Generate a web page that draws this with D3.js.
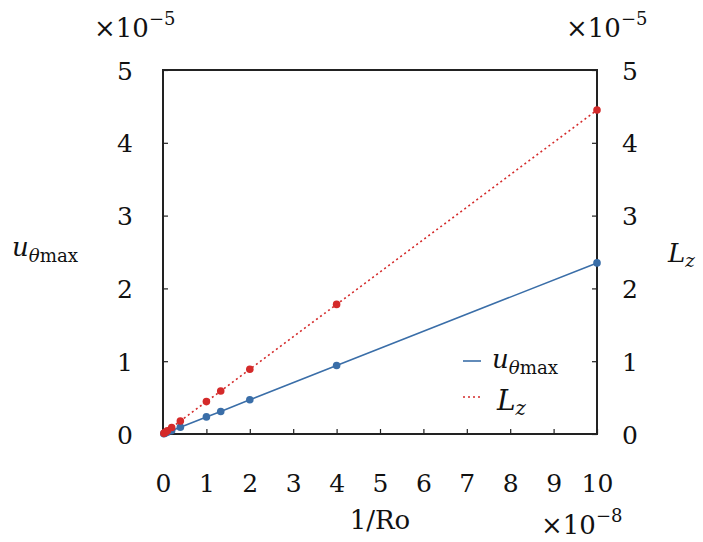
<!DOCTYPE html>
<html>
<head>
<meta charset="utf-8">
<script src="https://cdn.jsdelivr.net/npm/d3@7"></script>
<style>
  body { margin: 0; background: #fff; }
</style>
</head>
<body>
<div id="chart"></div>
<script>
// 1/Ro values (x 1e-8) and the two series (x 1e-5)
var invRo = [0.02, 0.05, 0.1, 0.2, 0.4, 1, 1.33, 2, 4, 10];
var uThetaMax = [0.005, 0.012, 0.024, 0.047, 0.094, 0.235, 0.31, 0.47, 0.94, 2.35];
var Lz = [0.009, 0.022, 0.045, 0.089, 0.178, 0.445, 0.59, 0.89, 1.78, 4.45];
var xTicks = [0, 1, 2, 3, 4, 5, 6, 7, 8, 9, 10];
var yTicks = [0, 1, 2, 3, 4, 5];

var W = 703, H = 542;
var margin = { top: 70, right: 106, bottom: 108, left: 163 },
    width = W - margin.left - margin.right,
    height = H - margin.top - margin.bottom;

var blue = "#3a6ea8", red = "#d42a2a";
var serif = "'DejaVu Serif', 'Liberation Serif', serif";

var svg = d3.select("#chart").append("svg")
    .attr("width", W).attr("height", H)
    .style("font-family", serif);
var g = svg.append("g")
    .attr("transform", "translate(" + margin.left + "," + margin.top + ")");

var x = d3.scaleLinear().domain([0, 10]).range([0, width]);
var y = d3.scaleLinear().domain([0, 5]).range([height, 0]);

// axes, ticks pointing inward
function styleAxis(sel) {
    sel.attr("font-family", null).attr("font-size", null);
    sel.select(".domain").remove();
    sel.selectAll(".tick line").attr("stroke", "#222").attr("stroke-width", 1.2);
    sel.selectAll(".tick text")
        .style("font-family", serif)
        .style("font-size", "25px").attr("fill", "#111");
}
g.append("g")
    .attr("transform", "translate(0," + height + ")")
    .call(d3.axisBottom(x).tickValues(xTicks).tickSizeInner(-5).tickPadding(40).tickFormat(d3.format("d")))
    .call(styleAxis);
g.append("g")
    .call(d3.axisLeft(y).tickValues(yTicks).tickSizeInner(-5).tickPadding(30).tickFormat(d3.format("d")))
    .call(styleAxis)
    .selectAll(".tick text").attr("dy", "0.36em");
g.append("g")
    .attr("transform", "translate(" + width + ",0)")
    .call(d3.axisRight(y).tickValues(yTicks).tickSizeInner(-5).tickPadding(25).tickFormat(d3.format("d")))
    .call(styleAxis)
    .selectAll(".tick text").attr("dy", "0.36em");

// frame
g.append("rect")
    .attr("width", width).attr("height", height)
    .attr("fill", "none").attr("stroke", "#222").attr("stroke-width", 2);

var ser = [
    { name: "u", vals: uThetaMax, color: blue, dash: null },
    { name: "L", vals: Lz, color: red, dash: "2,3" }
];
var line = d3.line()
    .x(function (d) { return x(d[0]); })
    .y(function (d) { return y(d[1]); });

ser.forEach(function (s) {
    var pts = invRo.map(function (v, i) { return [v, s.vals[i]]; });
    g.append("path")
        .datum(pts)
        .attr("d", line)
        .attr("fill", "none")
        .attr("stroke", s.color)
        .attr("stroke-width", 1.6)
        .attr("stroke-dasharray", s.dash);
    g.selectAll(".pt-" + s.name)
        .data(pts)
        .enter().append("circle")
        .attr("cx", function (d) { return x(d[0]); })
        .attr("cy", function (d) { return y(d[1]); })
        .attr("r", 3.8)
        .attr("fill", s.color);
});

function txt(px, py, size) {
    return svg.append("text").attr("x", px).attr("y", py)
        .style("font-family", serif).style("font-size", size + "px").attr("fill", "#111");
}

// exponent labels
function expLabel(px, py, exp) {
    var t = txt(px, py, 26);
    t.append("tspan").text("\u00d710");
    t.append("tspan").attr("dy", -12).style("font-size", "18px").text("\u2212" + exp);
}
expLabel(94, 37, 5);
expLabel(566, 37, 5);
expLabel(541, 534, 8);

// axis labels
txt(380, 529, 26).attr("text-anchor", "middle").text("1/Ro");

function uLabel(px, py, size) {
    var t = txt(px, py, size);
    t.append("tspan").style("font-style", "italic").text("u");
    t.append("tspan").attr("dy", 6).style("font-style", "italic").style("font-size", (size * 0.7) + "px").text("\u03b8");
    t.append("tspan").style("font-size", (size * 0.7) + "px").text("max");
}
function lLabel(px, py, size) {
    var t = txt(px, py, size);
    t.append("tspan").style("font-style", "italic").text("L");
    t.append("tspan").attr("dy", 5).style("font-style", "italic").style("font-size", (size * 0.7) + "px").text("z");
}
uLabel(12, 256, 26);
lLabel(668, 262, 26);

// legend
ser.forEach(function (s, i) {
    var ly = 361 + i * 36;
    svg.append("line")
        .attr("x1", 463).attr("x2", 481)
        .attr("y1", ly).attr("y2", ly)
        .attr("stroke", s.color).attr("stroke-width", 1.6)
        .attr("stroke-dasharray", s.dash);
});
uLabel(492, 368, 26);
lLabel(497, 410, 28);
</script>
</body>
</html>
